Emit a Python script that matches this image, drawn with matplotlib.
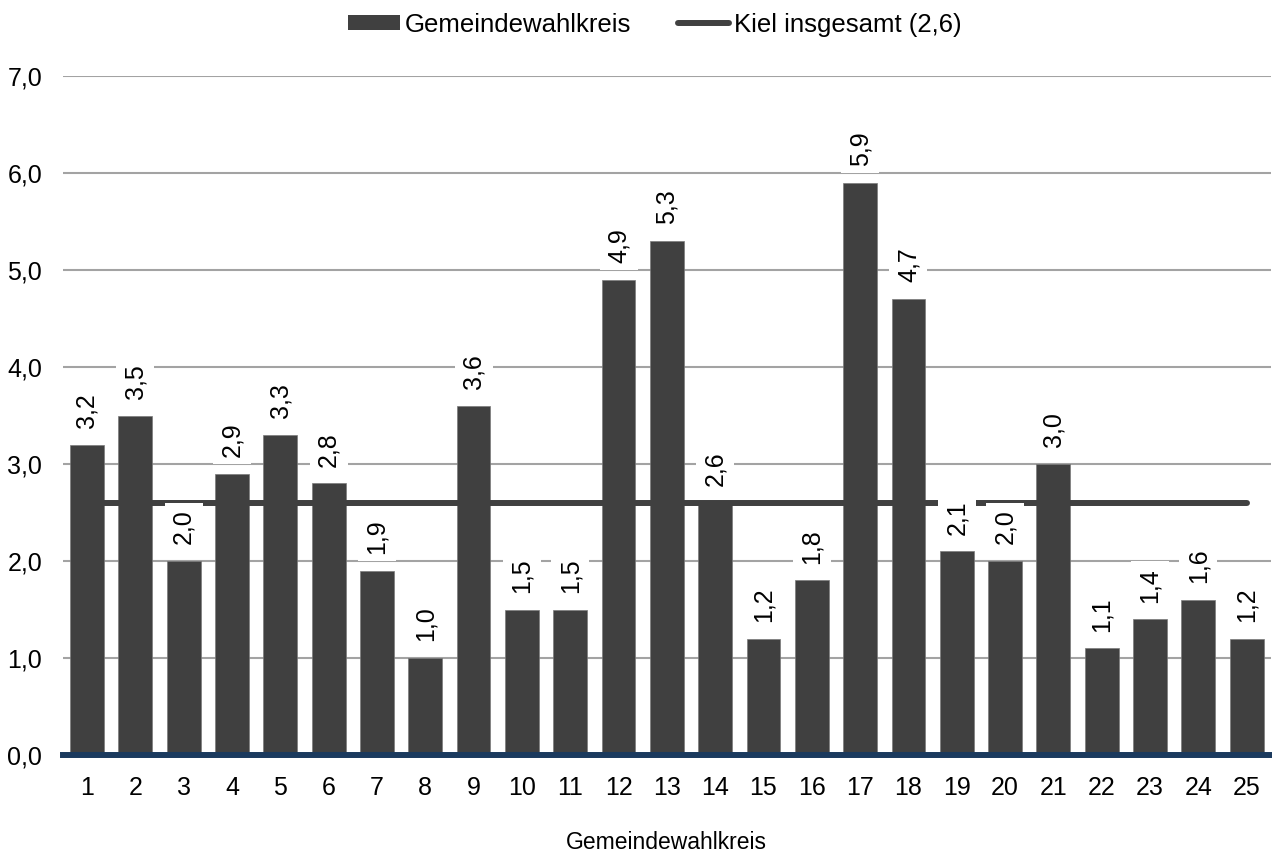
import matplotlib
matplotlib.use("Agg")
import matplotlib.pyplot as plt
from matplotlib.lines import Line2D
from matplotlib.patches import Patch

plt.rcParams['font.family'] = ['Liberation Sans', 'DejaVu Sans']

districts = [str(i) for i in range(1, 26)]
values = [3.2, 3.5, 2.0, 2.9, 3.3, 2.8, 1.9, 1.0, 3.6, 1.5, 1.5, 4.9, 5.3, 2.6,
          1.2, 1.8, 5.9, 4.7, 2.1, 2.0, 3.0, 1.1, 1.4, 1.6, 1.2]
kiel_total = 2.6
yticks = [0, 1, 2, 3, 4, 5, 6, 7]

bar_color = '#404040'
axis_color = '#1b3a5e'
grid_color = '#a3a3a3'

fig = plt.figure(figsize=(12.72, 8.52), dpi=100)
ax = fig.add_axes([0.0494, 0.1138, 0.9497, 0.797])

x = list(range(1, len(values) + 1))
ax.bar(x, values, width=0.7, color=bar_color, edgecolor='#7a7a7a',
       linewidth=0.5, zorder=2)
ax.plot([x[0], x[-1]], [kiel_total, kiel_total], color=bar_color, lw=4.3,
        solid_capstyle='round', zorder=3)

for xi, v in zip(x, values):
    ax.annotate(f"{v:.1f}".replace('.', ','), (xi, v), xytext=(0, 12),
                textcoords='offset points', rotation=90, ha='center', va='bottom',
                fontsize=18, zorder=4,
                bbox=dict(boxstyle='square,pad=0.28', fc='white', ec='none'))

ax.set_xlim(0.5, len(values) + 0.5)
ax.set_ylim(0, 7)
ax.set_yticks(yticks)
ax.set_yticklabels([f"{t:.1f}".replace('.', ',') for t in yticks], fontsize=18)
ax.set_xticks(x)
ax.set_xticklabels(districts, fontsize=18)
ax.tick_params(axis='y', length=0, pad=15)
ax.tick_params(axis='x', length=0, pad=15)
ax.yaxis.grid(True, color=grid_color, lw=1.5, zorder=0)
ax.set_axisbelow(True)
for s in ['top', 'right', 'left']:
    ax.spines[s].set_visible(False)
ax.spines['bottom'].set_color(axis_color)
ax.spines['bottom'].set_linewidth(4.3)
ax.spines['bottom'].set_zorder(5)
ax.set_xlabel('Gemeindewahlkreis', fontsize=16.5)
ax.xaxis.set_label_coords(0.5, -0.112)

handles = [Patch(facecolor=bar_color, edgecolor='none'),
           Line2D([0], [0], color=bar_color, lw=4.3, solid_capstyle='round')]
fig.legend(handles, ['Gemeindewahlkreis', 'Kiel insgesamt (2,6)'],
           loc='center', bbox_to_anchor=(0.515, 0.971), ncol=2, frameon=False,
           fontsize=18.5, handlelength=2.0, handleheight=0.55, handletextpad=0.2,
           columnspacing=1.8)

fig.savefig('out.png', dpi=100)
